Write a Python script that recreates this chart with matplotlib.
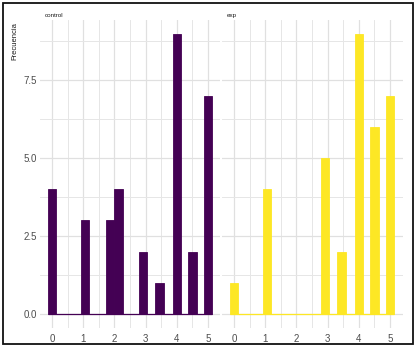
import numpy as np
import matplotlib
matplotlib.use('Agg')
import matplotlib.pyplot as plt
from matplotlib.patches import Rectangle

plt.rcParams['font.family'] = ['Liberation Sans', 'DejaVu Sans']

# --- datos ---
bin_centers = np.array([0.0, 1.06, 1.86, 2.13, 2.92, 3.45, 4.0, 4.5, 5.0])
control_counts = [4, 3, 3, 4, 2, 1, 9, 2, 7]
exp_counts = [1, 4, 0, 0, 5, 2, 9, 6, 7]
groups = ['control', 'exp']
colors = ['#440154', '#FDE725']
bin_width = 0.27

W, H = 416, 347
fig = plt.figure(figsize=(W / 100, H / 100), dpi=100)

def px(l, t, w, h):
    return [l / W, 1 - (t + h) / H, w / W, h / H]

panels = [px(39.5, 19.5, 181, 308.5), px(221.5, 19.5, 181, 308.5)]

for i, (name, counts, col) in enumerate(zip(groups, [control_counts, exp_counts], colors)):
    ax = fig.add_axes(panels[i])
    ax.bar(bin_centers, counts, width=bin_width, color=col, edgecolor=col,
           linewidth=0.6, zorder=3)
    # contenedores vacíos: línea base
    ax.hlines(0, bin_centers.min() - bin_width / 2, bin_centers.max() + bin_width / 2,
              color=col, linewidth=0.9, zorder=3)

    ax.set_xlim(-0.4, 5.4)
    ax.set_ylim(-0.45, 9.45)
    ax.set_xticks(range(6))
    ax.set_xticks(np.arange(0.5, 5.0, 1.0), minor=True)
    ax.set_yticks([0, 2.5, 5.0, 7.5])
    ax.set_yticks([1.25, 3.75, 6.25, 8.75], minor=True)
    ax.grid(True, which='major', color='#e0e0e0', linewidth=0.9, zorder=0)
    ax.grid(True, which='minor', color='#e6e6e6', linewidth=0.7, zorder=0)
    ax.tick_params(which='both', length=0, labelsize=7, labelcolor='#4d4d4d')
    ax.tick_params(axis='x', pad=4)
    ax.tick_params(axis='y', pad=2)
    ax.set_yticklabels(['0.0', '2.5', '5.0', '7.5'])
    if i == 1:
        ax.set_yticklabels([])
    for s in ax.spines.values():
        s.set_visible(False)
    ax.text(0.03, 1.005, name, transform=ax.transAxes, fontsize=4.5,
            color='#1a1a1a', ha='left', va='bottom')

fig.text(15 / W, 1 - 22 / H, 'Frecuencia', rotation=90, fontsize=5.5,
         color='#1a1a1a', ha='center', va='top')

fig.patches.append(Rectangle((2.5 / W, 1 - 344 / H), 410.5 / W, 341.5 / H,
                             transform=fig.transFigure, fill=False,
                             edgecolor='#111111', linewidth=1.3))

fig.savefig('out.png', dpi=100)
